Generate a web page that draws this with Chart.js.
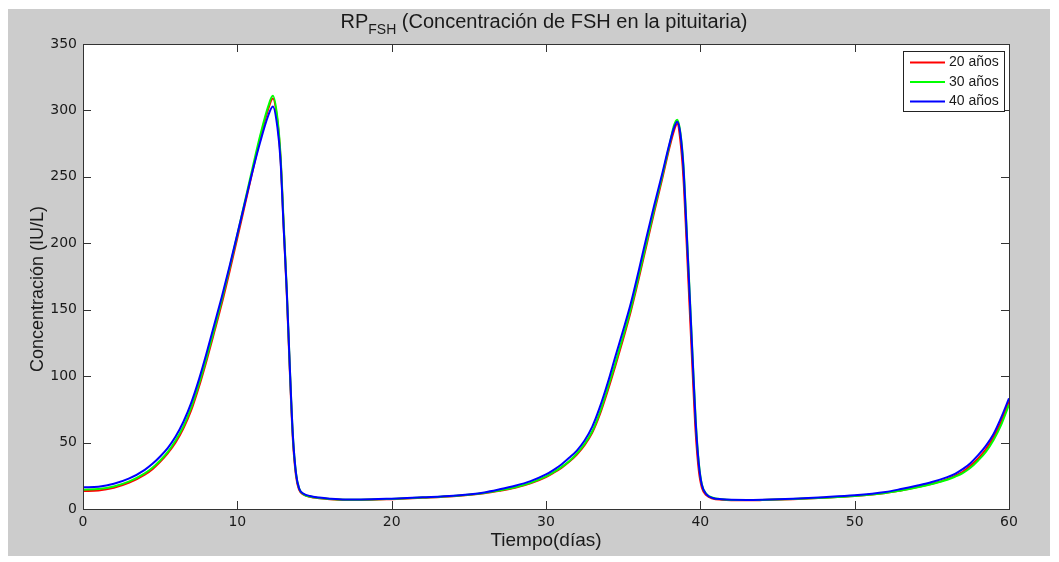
<!DOCTYPE html>
<html>
<head>
<meta charset="utf-8">
<script src="https://cdn.jsdelivr.net/npm/chart.js@4.4.0/dist/chart.umd.min.js"></script>
<style>
  html, body { margin: 0; padding: 0; background: #fff; }
  canvas { display: block; }
</style>
</head>
<body>
<canvas id="fshChart" width="1059" height="562"></canvas>
<script>
// tiempo en días (eje x)
const tiempo = [0, 1, 2, 3, 4, 4.5, 5, 5.5, 6, 6.5, 7, 7.5, 8, 8.5, 9, 9.5, 10, 10.5, 11, 11.5, 12, 12.3,
  12.6, 12.8, 13, 13.2, 13.4, 13.6, 13.8, 14, 14.3, 14.7, 15.3, 16, 17, 18, 20, 22, 24, 26, 27, 28, 29, 30,
  30.5, 31, 31.5, 32, 32.5, 33, 33.5, 34, 34.5, 35, 35.5, 36, 36.5, 37, 37.5, 38, 38.3, 38.5, 38.7, 38.9, 39.1,
  39.3, 39.5, 39.7, 39.9, 40.1, 40.4, 40.8, 41.4, 42, 43,
  44, 46, 48, 50, 52,
  53, 54, 55, 56, 56.5,
  57, 57.5, 58, 58.5, 59, 59.5, 60];

// RP_FSH (IU/L) por edad
const rp20 = [13.5, 14, 16, 19.8, 25.8, 30, 35.5, 42, 50, 60.5, 74, 91.5, 111.5, 133, 155, 179, 204, 229.5, 255, 280, 301, 309,
  292, 264, 213, 163, 104, 52, 25, 14.5, 10.8, 9.2, 8.1, 7.3, 6.8, 6.8, 7.4, 8.4, 9.6, 11.8, 13.7, 16, 19.3, 24,
  27.3, 31, 35.5, 41, 48, 57.5, 71.5, 89, 108, 128, 149, 173, 198, 223, 247, 272, 285, 290, 278, 250, 203,
  153, 103, 57, 29, 16, 10.3, 7.9, 7, 6.6, 6.5,
  6.7, 7.4, 8.4, 9.7, 12,
  14, 16.3, 19, 22.5, 25,
  28, 32.5, 38, 45, 54, 66, 81];

const rp30 = [14.5, 15, 17, 20.8, 26.8, 31, 36.5, 43, 51.5, 62, 76, 93.5, 113.5, 135, 157.5, 181.5, 206.5, 232, 257.5, 282, 303, 311,
  294, 266, 216, 166, 107, 55, 27, 15.5, 11, 9.4, 8.3, 7.5, 7, 7, 7.6, 8.6, 9.8, 12, 14, 16.3, 19.7, 24.5,
  27.8, 31.5, 36, 41.8, 49, 58.5, 73, 91, 110, 130, 151, 175, 200, 225, 249, 274, 289, 293, 284, 260, 214,
  165, 115, 67, 35, 18.5, 11.3, 8.5, 7.3, 6.8, 6.7,
  6.8, 7.5, 8.5, 9.8, 12.1,
  14, 16.2, 18.8, 22, 24.3,
  27, 31, 36.5, 43, 52, 63.5, 78.5];

const rp40 = [16.3, 16.8, 19, 23, 29.5, 34, 39.5, 46, 54.5, 65.5, 79.5, 97, 117, 138.5, 160, 183, 207, 231, 255, 277, 296, 303,
  287, 262, 212, 165, 107, 55, 27, 15.5, 11.5, 9.8, 8.6, 7.8, 7.2, 7.2, 7.8, 8.8, 10, 12.5, 14.8, 17.5, 21, 26,
  29.5, 33.5, 38.5, 44, 51.5, 62, 77, 95, 115, 134.5, 155, 179, 204, 228, 251, 275, 287, 291.5, 283, 258, 212,
  163, 113, 65, 34, 18, 11, 8.3, 7.3, 6.9, 6.8,
  7, 7.8, 8.9, 10.3, 12.8,
  15, 17.5, 20.3, 24, 26.5,
  30, 34.5, 40.5, 47.5, 56.5, 69, 83.3];

const etiquetas = ["20 años", "30 años", "40 años"];
const colores = ["#ff0000", "#00ff00", "#0000ff"];
const xTicks = [0, 10, 20, 30, 40, 50, 60];
const yTicks = [0, 50, 100, 150, 200, 250, 300, 350];

const TEXT = "#1a1a1a";
const FRAME = "#333333";

function puntos(vals) {
  return tiempo.map((t, i) => ({ x: t, y: vals[i] }));
}

// fondo gris tipo figura de MATLAB + área blanca
const fondo = {
  id: "fondo",
  beforeDraw(chart) {
    const { ctx, chartArea: a } = chart;
    ctx.save();
    ctx.fillStyle = "#ffffff";
    ctx.fillRect(0, 0, chart.width, chart.height);
    ctx.fillStyle = "#cccccc";
    ctx.fillRect(8, 9, 1042, 547);
    ctx.fillStyle = "#ffffff";
    ctx.fillRect(a.left, a.top, a.right - a.left, a.bottom - a.top);
    ctx.restore();
  }
};

// marco + ticks hacia dentro
const marco = {
  id: "marco",
  afterDatasetsDraw(chart) {
    const { ctx, chartArea: a, scales } = chart;
    ctx.save();
    ctx.strokeStyle = FRAME;
    ctx.lineWidth = 1;
    ctx.strokeRect(Math.round(a.left) + 0.5, Math.round(a.top) + 0.5,
      Math.round(a.right - a.left), Math.round(a.bottom - a.top));
    ctx.beginPath();
    xTicks.forEach(v => {
      const px = Math.round(scales.x.getPixelForValue(v)) + 0.5;
      ctx.moveTo(px, a.bottom); ctx.lineTo(px, a.bottom - 8);
      ctx.moveTo(px, a.top); ctx.lineTo(px, a.top + 8);
    });
    yTicks.forEach(v => {
      const py = Math.round(scales.y.getPixelForValue(v)) + 0.5;
      ctx.moveTo(a.left, py); ctx.lineTo(a.left + 8, py);
      ctx.moveTo(a.right, py); ctx.lineTo(a.right - 8, py);
    });
    ctx.stroke();
    ctx.restore();
  }
};

// título con subíndice y etiqueta del eje y
const titulo = {
  id: "titulo",
  afterDraw(chart) {
    const ctx = chart.ctx;
    const p1 = "RP", p2 = "FSH", p3 = " (Concentración de FSH en la pituitaria)";
    const fBig = '20px "Liberation Sans", Arial, sans-serif';
    const fSub = '14px "Liberation Sans", Arial, sans-serif';
    ctx.save();
    ctx.fillStyle = TEXT;
    ctx.textBaseline = "alphabetic";
    ctx.textAlign = "left";
    ctx.font = fBig; const w1 = ctx.measureText(p1).width; const w3 = ctx.measureText(p3).width;
    ctx.font = fSub; const w2 = ctx.measureText(p2).width;
    let x = 544 - (w1 + w2 + w3) / 2;
    ctx.font = fBig; ctx.fillText(p1, x, 28); x += w1;
    ctx.font = fSub; ctx.fillText(p2, x, 34); x += w2;
    ctx.font = fBig; ctx.fillText(p3, x, 28);

    ctx.translate(38, 289);
    ctx.rotate(-Math.PI / 2);
    ctx.textAlign = "center";
    ctx.textBaseline = "middle";
    ctx.font = '18px "Liberation Sans", Arial, sans-serif';
    ctx.fillText("Concentración (IU/L)", 0, 0);
    ctx.restore();
  }
};

// leyenda en la esquina superior derecha
const leyenda = {
  id: "leyenda",
  afterDraw(chart) {
    const ctx = chart.ctx;
    ctx.save();
    ctx.fillStyle = "#ffffff";
    ctx.fillRect(903, 51, 102, 61);
    ctx.strokeStyle = "#222222";
    ctx.lineWidth = 1;
    ctx.strokeRect(903.5, 51.5, 101, 60);
    ctx.font = '14px "Liberation Sans", Arial, sans-serif';
    ctx.textBaseline = "middle";
    chart.data.datasets.forEach((ds, i) => {
      const y = 62.5 + i * 19.5;
      ctx.strokeStyle = ds.borderColor;
      ctx.lineWidth = 2;
      ctx.beginPath(); ctx.moveTo(910, y); ctx.lineTo(945, y); ctx.stroke();
      ctx.fillStyle = TEXT;
      ctx.fillText(ds.label, 949, y);
    });
    ctx.restore();
  }
};

const datasets = [rp20, rp30, rp40].map((vals, i) => ({
  label: etiquetas[i],
  data: puntos(vals),
  borderColor: colores[i],
  backgroundColor: colores[i],
  borderWidth: 2,
  pointRadius: 0,
  fill: false,
  cubicInterpolationMode: "monotone",
  order: 3 - i
}));

new Chart(document.getElementById("fshChart"), {
  type: "line",
  data: { datasets },
  options: {
    responsive: false,
    animation: false,
    devicePixelRatio: 1,
    layout: { padding: { left: 0, right: 50, top: 44, bottom: 10 } },
    plugins: { legend: { display: false }, tooltip: { enabled: false }, title: { display: false } },
    scales: {
      x: {
        type: "linear", min: 0, max: 60,
        afterBuildTicks: s => { s.ticks = xTicks.map(v => ({ value: v })); },
        afterFit: s => { s.height = 43; },
        grid: { display: false, drawTicks: false },
        border: { display: false },
        ticks: { padding: 5, color: TEXT, font: { family: "DejaVu Sans", size: 14 }, maxRotation: 0 },
        title: { display: true, text: "Tiempo(días)", color: TEXT,
          font: { family: "Liberation Sans", size: 19 }, padding: { top: 0, bottom: 0 } }
      },
      y: {
        type: "linear", min: 0, max: 350,
        afterBuildTicks: s => { s.ticks = yTicks.map(v => ({ value: v })); },
        afterFit: s => { s.width = 83; },
        grid: { display: false, drawTicks: false },
        border: { display: false },
        ticks: { padding: 6, color: TEXT, font: { family: "DejaVu Sans", size: 14 } },
        title: { display: false }
      }
    }
  },
  plugins: [fondo, marco, titulo, leyenda]
});
</script>
</body>
</html>
